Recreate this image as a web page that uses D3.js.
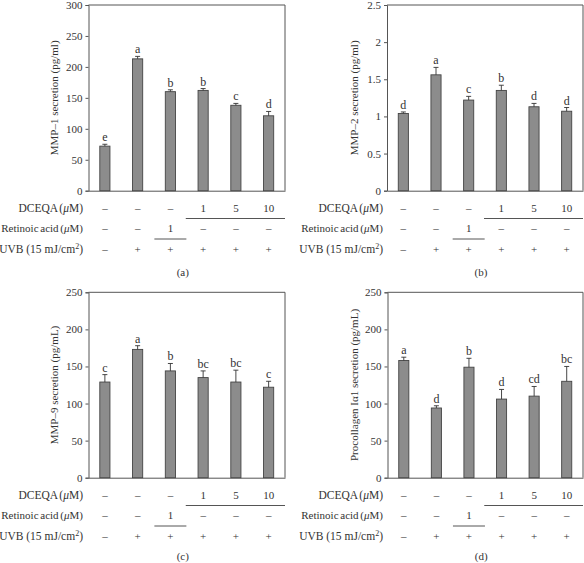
<!DOCTYPE html>
<html><head><meta charset="utf-8">
<script src="https://cdn.jsdelivr.net/npm/d3@7"></script>
<style>body{margin:0;background:#fff}svg{display:block}text{font-family:"Liberation Serif","DejaVu Serif",serif;fill:#333}</style>
</head><body><svg id="c" width="584" height="563"></svg>
<script>
const groups = [1,2,3,4,5,6];
const dceqaRow = ["–","–","–","1","5","10"];
const retinoicRow = ["–","–","1","–","–","–"];
const uvbRow = ["–","+","+","+","+","+"];

const mmp1Values = [72,213,160,162,138,121];
const mmp1Errors = [3,4,3,3,3,7];
const mmp1Letters = ["e","a","b","b","c","d"];
const mmp1Ticks = [0,50,100,150,200,250,300];

const mmp2Values = [1.04,1.56,1.22,1.35,1.13,1.07];
const mmp2Errors = [0.02,0.1,0.05,0.07,0.045,0.05];
const mmp2Letters = ["d","a","c","b","d","d"];
const mmp2Ticks = [0,0.5,1,1.5,2,2.5];

const mmp9Values = [129,173,144,135,129,122];
const mmp9Errors = [10,5,10,9,16,8];
const mmp9Letters = ["c","a","b","bc","bc","c"];
const mmp9Ticks = [0,50,100,150,200,250];

const procValues = [158,94,149,106,110,130];
const procErrors = [4.5,3,12,13,13,20];
const procLetters = ["a","d","b","d","cd","bc"];
const procTicks = [0,50,100,150,200,250];

const svg = d3.select("#c");

function panel(o){
  const g = svg.append("g");
  const x = d3.scaleBand().domain(groups).range([o.x0,o.x1]).paddingInner(0.69).paddingOuter(0.345);
  const y = d3.scaleLinear().domain([0,o.max]).range([o.yb,o.yt]);
  g.append("line").attr("x1",o.x0).attr("x2",o.x1).attr("y1",o.yt).attr("y2",o.yt).attr("stroke","#555");
  g.append("line").attr("x1",o.x1).attr("x2",o.x1).attr("y1",o.yt).attr("y2",o.yb).attr("stroke","#555");
  const ax = g.append("g").attr("transform",`translate(${o.x0},0)`)
    .call(d3.axisLeft(y).tickValues(o.ticks).tickSize(3).tickPadding(3).tickFormat(d=>String(d)));
  ax.select(".domain").attr("stroke","#555");
  ax.selectAll(".tick line").attr("stroke","#555");
  ax.selectAll("text").style("font-size","11px").attr("fill","#333").style("font-family","'Liberation Serif',serif");
  const xa = g.append("g").attr("transform",`translate(0,${o.yb})`).call(d3.axisBottom(x).tickSize(0).tickFormat(""));
  xa.select(".domain").attr("stroke","#555");
  const bw = x.bandwidth();
  g.selectAll("rect.bar").data(o.values).enter().append("rect")
    .attr("x",(d,i)=>x(groups[i])).attr("width",bw)
    .attr("y",d=>y(d)).attr("height",d=>o.yb-y(d))
    .attr("fill","#8c8c8c").attr("stroke","#444").attr("stroke-width",0.9);
  o.values.forEach((v,i)=>{
    const cx = x(groups[i])+bw/2;
    g.append("line").attr("x1",cx).attr("x2",cx).attr("y1",y(v)).attr("y2",y(v+o.errors[i])).attr("stroke","#333").attr("stroke-width",0.9);
    g.append("line").attr("x1",cx-2.5).attr("x2",cx+2.5).attr("y1",y(v+o.errors[i])).attr("y2",y(v+o.errors[i])).attr("stroke","#333").attr("stroke-width",0.9);
    g.append("text").attr("x",cx).attr("y",y(v+o.errors[i])-3).attr("text-anchor","middle").style("font-size","12px").text(o.letters[i]);
  });
  g.append("text").attr("transform",`translate(${o.titleX},${(o.yt+o.yb)/2}) rotate(-90)`).attr("text-anchor","middle").style("font-size","11px").text(o.title);
  const rows = [
    {lab:"DCEQA (", it:"μ", rest:"M)", vals:dceqaRow, dy:o.rowY[0], fs:11.5},
    {lab:"Retinoic acid (", it:"μ", rest:"M)", vals:retinoicRow, dy:o.rowY[1], fs:11},
  ];
  rows.forEach(r=>{
    const t = g.append("text").attr("x",o.labelX).attr("y",r.dy).attr("text-anchor","end").style("font-size",r.fs+"px").style("word-spacing","-1px");
    t.append("tspan").text(r.lab); t.append("tspan").style("font-style","italic").text(r.it); t.append("tspan").text(r.rest);
    r.vals.forEach((s,i)=>{
      g.append("text").attr("x",x(groups[i])+bw/2).attr("y",r.dy).attr("text-anchor","middle").style("font-size","11px").text(s);
    });
  });
  const tu = g.append("text").attr("x",o.labelX).attr("y",o.rowY[2]).attr("text-anchor","end").style("font-size","11.5px");
  tu.append("tspan").text("UVB (15 mJ/cm");
  tu.append("tspan").attr("dy",-4).style("font-size","8px").text("2");
  tu.append("tspan").attr("dy",4).text(")");
  uvbRow.forEach((s,i)=>{
    g.append("text").attr("x",x(groups[i])+bw/2).attr("y",o.rowY[2]).attr("text-anchor","middle").style("font-size","11px").text(s);
  });
  const c3 = x(groups[2])+bw/2, c4 = x(groups[3])+bw/2;
  g.append("line").attr("x1",(c3+c4)/2-1).attr("x2",o.x1).attr("y1",o.rowY[0]+7).attr("y2",o.rowY[0]+7).attr("stroke","#555");
  g.append("line").attr("x1",c3-16).attr("x2",c3+16).attr("y1",o.rowY[1]+7).attr("y2",o.rowY[1]+7).attr("stroke","#555");
  g.append("text").attr("x",(o.x0+o.x1)/2-4).attr("y",o.capY).attr("text-anchor","middle").style("font-size","11px").text(o.cap);
}

panel({x0:88.5,x1:285,yt:5,yb:190.7,max:300,ticks:mmp1Ticks,values:mmp1Values,errors:mmp1Errors,letters:mmp1Letters,
  title:"MMP–1 secretion (pg/ml)",titleX:58,labelX:83,rowY:[211.5,232,253],capY:276,cap:"(a)"});
panel({x0:387,x1:583,yt:5,yb:190.7,max:2.5,ticks:mmp2Ticks,values:mmp2Values,errors:mmp2Errors,letters:mmp2Letters,
  title:"MMP–2 secretion (pg/ml)",titleX:358,labelX:383,rowY:[211.5,232,253],capY:276,cap:"(b)"});
panel({x0:88.5,x1:285,yt:292.3,yb:477.7,max:250,ticks:mmp9Ticks,values:mmp9Values,errors:mmp9Errors,letters:mmp9Letters,
  title:"MMP–9 secretion (pg/mL)",titleX:58,labelX:83,rowY:[498.5,519,540],capY:560,cap:"(c)"});
panel({x0:387.5,x1:583,yt:292.3,yb:477.7,max:250,ticks:procTicks,values:procValues,errors:procErrors,letters:procLetters,
  title:"Procollagen Iα1 secretion (pg/mL)",titleX:358,labelX:383,rowY:[498.5,519,540],capY:560,cap:"(d)"});
</script></body></html>
